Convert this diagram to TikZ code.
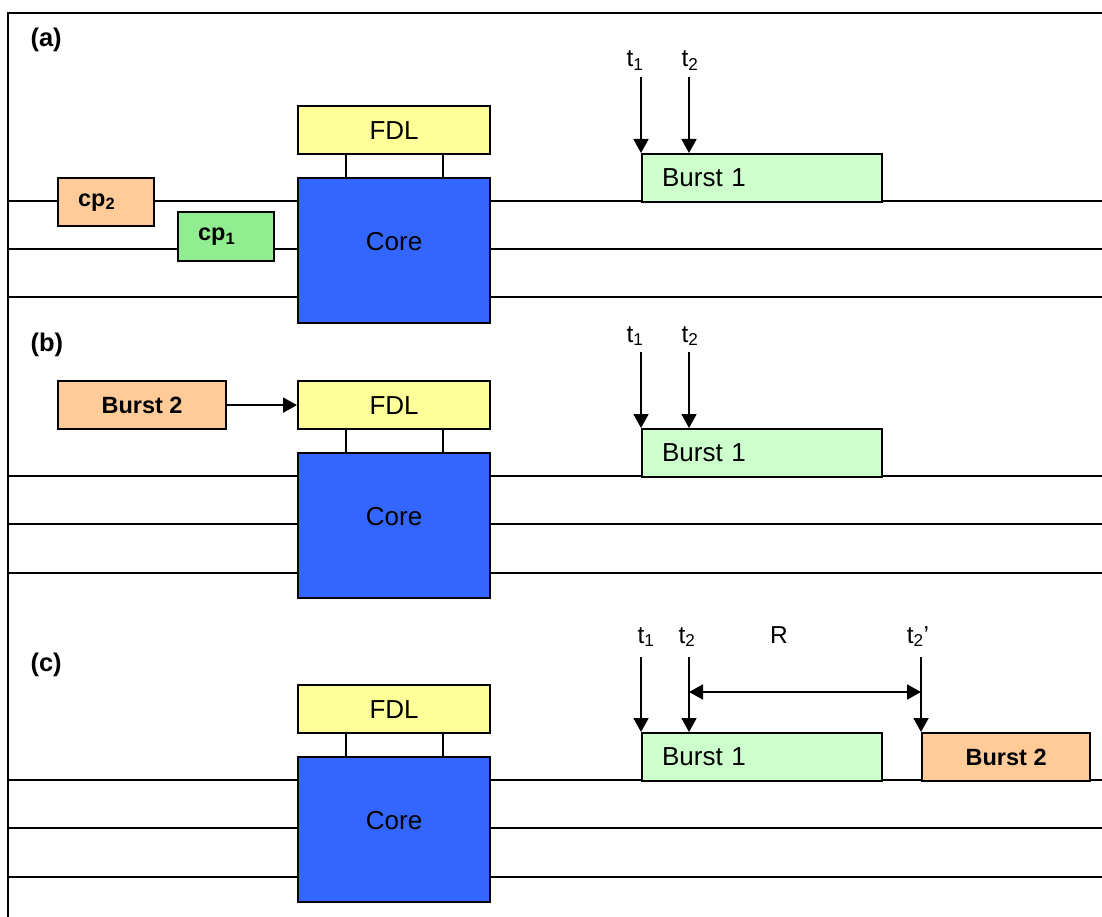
\documentclass[tikz,border=0pt]{standalone}
\usepackage{fontspec}
\setmainfont{Liberation Sans}
\usetikzlibrary{arrows.meta,calc}
\definecolor{peach}{HTML}{FFCC99}
\definecolor{cpgreen}{HTML}{90EE90}
\definecolor{paleburst}{HTML}{CCFFCC}
\definecolor{fdlyellow}{HTML}{FFFF99}
\definecolor{coreblue}{HTML}{3366FF}
\tikzset{
  box/.style={draw=black, line width=2.2pt, anchor=north west, inner sep=0pt},
  sized/.style 2 args={minimum width=#1pt, minimum height=#2pt},
  lefttext/.style={inner xsep=20pt, text width=#1pt, align=left},
  fiber/.style={line width=1.7pt},
  frameline/.style={line width=2.4pt},
  stub/.style={line width=2pt},
  tick/.style={line width=1.8pt, -{Triangle[width=15pt,length=14pt]}},
  span/.style={line width=1.8pt, {Triangle[width=15pt,length=14pt]}-{Triangle[width=15pt,length=14pt]}},
  big/.style={font=\fontsize{26}{30}\selectfont},
  lab/.style={font=\fontsize{24.5}{28}\selectfont},
  boldlab/.style={font=\fontsize{23.5}{28}\selectfont\bfseries},
  panellab/.style={font=\fontsize{25.5}{30}\selectfont\bfseries, anchor=west},
  fdl/.style={box, sized={192}{48}, fill=fdlyellow, big},
  core/.style={box, sized={192}{145}, fill=coreblue},
  burstone/.style={box, sized={240}{48}, fill=paleburst, big, lefttext=200},
  bursttwo/.style={box, sized={168}{48}, fill=peach, boldlab},
}
\begin{document}
\begin{tikzpicture}[x=1pt,y=-1pt]
\useasboundingbox (0,0) rectangle (1102,917);

% outer frame (open on the right and at the bottom)
\draw[frameline] (8,917) -- (8,13) -- (1102,13);

% fibre lines of the three panels
\foreach \y in {201,249,297, 476,524,573, 780,828,877}
  \draw[fiber] (8,\y) -- (1102,\y);

% ---------------- panel (a) ----------------
\node[panellab] (la) at (27,40) {(a)};
\node[fdl] (fdlA) at (297,105) {FDL};
\node[core] (coreA) at (297,177) {};
\node[big] (coreAt) at ([yshift=9.5pt]coreA.center) {Core};
\draw[stub] ($(fdlA.south west)!0.25!(fdlA.south east)$) -- ($(coreA.north west)!0.25!(coreA.north east)$);
\draw[stub] ($(fdlA.south west)!0.75!(fdlA.south east)$) -- ($(coreA.north west)!0.75!(coreA.north east)$);
\node[box, sized={96}{48}, fill=peach, boldlab, lefttext=56] (cp2) at (57,177) {cp\textsubscript{2}};
\node[box, sized={96}{49}, fill=cpgreen, boldlab, lefttext=56] (cp1) at (177,211) {cp\textsubscript{1}};
\node[burstone] (b1A) at (641,153) {Burst 1};
\coordinate (tA1) at (641,77);
\coordinate (tA2) at (689,77);
\draw[tick] (tA1) -- (b1A.north west);
\draw[tick] (tA2) -- (tA2 |- b1A.north);
\node[lab, anchor=base] (lt1a) at (635,67) {t\textsubscript{1}};
\node[lab, anchor=base] (lt2a) at (690,67) {t\textsubscript{2}};

% ---------------- panel (b) ----------------
\node[panellab] (lb) at (27,345) {(b)};
\node[fdl] (fdlB) at (297,380) {FDL};
\node[core] (coreB) at (297,452) {};
\node[big] (coreBt) at ([yshift=9.5pt]coreB.center) {Core};
\draw[stub] ($(fdlB.south west)!0.25!(fdlB.south east)$) -- ($(coreB.north west)!0.25!(coreB.north east)$);
\draw[stub] ($(fdlB.south west)!0.75!(fdlB.south east)$) -- ($(coreB.north west)!0.75!(coreB.north east)$);
\node[bursttwo] (b2B) at (57,380) {Burst 2};
\draw[tick] (b2B.east) -- (fdlB.west);
\node[burstone] (b1B) at (641,428) {Burst 1};
\coordinate (tB1) at (641,352);
\coordinate (tB2) at (689,352);
\draw[tick] (tB1) -- (b1B.north west);
\draw[tick] (tB2) -- (tB2 |- b1B.north);
\node[lab, anchor=base] (lt1b) at (635,342) {t\textsubscript{1}};
\node[lab, anchor=base] (lt2b) at (690,342) {t\textsubscript{2}};

% ---------------- panel (c) ----------------
\node[panellab] (lc) at (27,665) {(c)};
\node[fdl] (fdlC) at (297,684) {FDL};
\node[core] (coreC) at (297,756) {};
\node[big] (coreCt) at ([yshift=9.5pt]coreC.center) {Core};
\draw[stub] ($(fdlC.south west)!0.25!(fdlC.south east)$) -- ($(coreC.north west)!0.25!(coreC.north east)$);
\draw[stub] ($(fdlC.south west)!0.75!(fdlC.south east)$) -- ($(coreC.north west)!0.75!(coreC.north east)$);
\node[burstone] (b1C) at (641,732) {Burst 1};
\node[bursttwo] (b2C) at (921,732) {Burst 2};
\coordinate (tC1) at (641,657);
\coordinate (tC2) at (689,657);
\coordinate (tC3) at (921,657);
\draw[tick] (tC1) -- (b1C.north west);
\draw[tick] (tC2) -- (tC2 |- b1C.north);
\draw[tick] (tC3) -- (b2C.north west);
\coordinate (rL) at (689,692);
\coordinate (rR) at (921,692);
\draw[span] (rL) -- (rR);
\node[lab, anchor=base] (lt1c) at (646,643) {t\textsubscript{1}};
\node[lab, anchor=base] (lt2c) at (687,643) {t\textsubscript{2}};
\node[lab, anchor=base] (lr) at (779,643) {R};
\node[lab, anchor=base] (lt3c) at (918,643) {t\textsubscript{2}’};
\end{tikzpicture}
\end{document}
